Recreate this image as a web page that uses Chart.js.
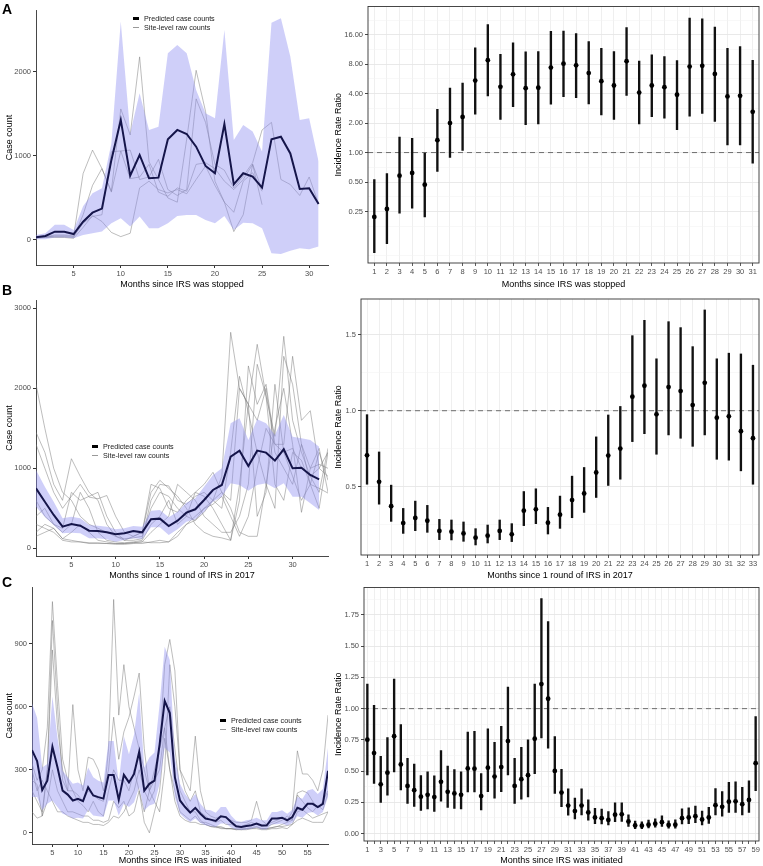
<!DOCTYPE html>
<html>
<head>
<meta charset="utf-8">
<script src="https://cdn.jsdelivr.net/npm/chart.js@4.4.1/dist/chart.umd.min.js"></script>
<style>
  body { margin: 0; background: #fff; font-family: 'Liberation Sans', Arial, sans-serif; }
  #wrap { position: relative; width: 763px; height: 866px; overflow: hidden; }
  #wrap canvas { position: absolute; }
  .tag { position: absolute; font-weight: bold; font-size: 14px; color: #000; }
  .lg { position: absolute; font-size: 7.2px; color: #1a1a1a; line-height: 9px; }
  .lg div { display: flex; align-items: center; white-space: nowrap; }
  .lg span.k { display: inline-block; width: 6px; margin-right: 5px; }
</style>
</head>
<body>
<div id="wrap">
  <canvas id="la" width="336" height="290" style="left:0;top:0"></canvas>
  <canvas id="ra" width="430" height="290" style="left:333px;top:0"></canvas>
  <canvas id="lb" width="336" height="291" style="left:0;top:290px"></canvas>
  <canvas id="rb" width="430" height="291" style="left:333px;top:290px"></canvas>
  <canvas id="lc" width="336" height="285" style="left:0;top:581px"></canvas>
  <canvas id="rc" width="430" height="285" style="left:333px;top:581px"></canvas>

  <div class="tag" style="left:2px;top:1px">A</div>
  <div class="tag" style="left:2px;top:282px">B</div>
  <div class="tag" style="left:2px;top:574px">C</div>

  <div class="lg" style="left:133px;top:14px">
    <div><span class="k" style="height:2.5px;background:#000"></span>Predicted case counts</div>
    <div><span class="k" style="height:1px;background:#999"></span>Site-level raw counts</div>
  </div>
  <div class="lg" style="left:92px;top:442px">
    <div><span class="k" style="height:2.5px;background:#000"></span>Predicted case counts</div>
    <div><span class="k" style="height:1px;background:#999"></span>Site-level raw counts</div>
  </div>
  <div class="lg" style="left:220px;top:716px">
    <div><span class="k" style="height:2.5px;background:#000"></span>Predicted case counts</div>
    <div><span class="k" style="height:1px;background:#999"></span>Site-level raw counts</div>
  </div>
</div>

<script>
// ---------- Panel A: months since IRS was stopped ----------
const monthsA = Array.from({ length: 31 }, (_, i) => i + 1);
const predA = [32, 48, 99, 99, 71, 218, 325, 373, 950, 1429, 766, 1012, 734, 742, 1198, 1310, 1262, 1111, 881, 794, 1381, 663, 794, 754, 623, 1200, 1230, 1030, 607, 615, 428];
const upA = [60, 80, 180, 180, 120, 400, 555, 615, 1150, 2600, 1270, 1746, 1310, 1349, 2222, 2321, 2222, 1786, 1508, 1448, 2500, 1190, 1369, 1290, 1052, 2587, 2639, 2183, 1429, 1448, 933];
const loA = [8, 8, 28, 30, 20, 60, 80, 100, 198, 258, 159, 278, 139, 139, 198, 286, 298, 298, 238, 198, 286, 119, 206, 198, 139, -159, -167, -127, -99, -111, -79];
const rawA1 = [40, 40, 60, 60, 50, 790, 1070, 850, 580, 1560, 1250, 2180, 930, 720, 500, 450, 1200, 2020, 1530, 700, 450, 100, 300, 900, 420, null, null, null, null, null, null];
const rawA2 = [30, 40, 40, 40, 30, 300, 650, 850, 570, 1060, 1070, 720, 750, 960, 600, 530, 600, 1680, 1400, 900, 830, 620, 760, 920, 1310, 1400, 720, 660, 530, 750, 430];
const rawA3 = [20, 30, 30, 30, 20, 150, 290, 220, 90, 40, 80, 620, 700, 600, 560, 600, 550, 720, 880, 650, 450, 330, 700, 800, 580, null, null, null, null, null, null];
const rawA4 = [30, 30, 50, 50, 40, 200, 280, 300, 1050, 1060, 730, 750, 900, 570, 520, 620, 580, 900, 920, 850, 700, 600, 720, 900, 600, null, null, null, null, null, null];
const irrA = [0.22, 0.265, 0.58, 0.62, 0.47, 1.34, 2.0, 2.31, 5.45, 8.8, 4.7, 6.3, 4.55, 4.6, 7.4, 8.1, 7.8, 6.5, 5.37, 4.85, 8.6, 4.1, 4.85, 4.66, 3.9, 7.57, 7.7, 6.37, 3.75, 3.8, 2.61];
const irrLoA = [0.095, 0.117, 0.24, 0.27, 0.22, 0.64, 0.89, 1.05, 2.47, 3.8, 2.18, 2.94, 1.93, 1.96, 3.13, 3.72, 3.63, 3.15, 2.42, 2.18, 3.83, 1.96, 2.33, 2.25, 1.71, 2.36, 2.52, 2.08, 1.2, 1.2, 0.78];
const irrHiA = [0.53, 0.61, 1.44, 1.4, 0.99, 2.76, 4.55, 5.12, 11.8, 20.3, 10.1, 13.2, 10.7, 10.8, 17.3, 17.5, 16.5, 13.6, 11.6, 10.8, 18.9, 8.6, 10.0, 9.6, 8.7, 23.7, 23.3, 19.2, 11.6, 12.1, 8.77];

// ---------- Panel B: months since 1 round of IRS in 2017 ----------
const monthsB = Array.from({ length: 33 }, (_, i) => i + 1);
const monthsBRaw = Array.from({ length: 34 }, (_, i) => i + 1);
const predB = [750, 583, 417, 271, 304, 283, 221, 217, 200, 175, 188, 217, 200, 363, 371, 279, 346, 446, 488, 604, 729, 792, 1146, 1221, 1029, 1221, 1196, 1096, 1238, 1000, 1008, 917, 863];
const upB = [979, 771, 583, 375, 396, 375, 292, 283, 271, 238, 250, 279, 271, 471, 479, 388, 458, 571, 625, 771, 917, 1000, 1563, 1625, 1354, 1613, 1563, 1417, 1667, 1396, 1375, 1354, 1271];
const loB = [521, 396, 292, 188, 196, 188, 125, 125, 113, 83, 104, 125, 117, 263, 263, 167, 238, 333, 363, 458, 583, 646, 813, 792, 721, 792, 813, 750, 813, 646, 646, 563, 479];
const rawB1 = [2050, 1500, 1000, 700, 600, 400, 300, 250, 200, 150, 120, 130, 150, 500, 700, 650, 500, 400, 350, 500, 600, 900, 2700, 2000, 1800, 2550, 1900, 1400, 2650, 1600, 1200, 900, 700, 1250];
const rawB2 = [1450, 1200, 800, 600, 1120, 900, 700, 600, 300, 150, 100, 100, 120, 600, 800, 780, 600, 550, 650, 700, 600, 500, 1200, 2150, 1700, 1200, 800, 500, 2400, 2050, 1300, 1000, 1250, 700];
const rawB3 = [1300, 1000, 700, 500, 650, 800, 640, 620, 660, 400, 200, 150, 200, 700, 850, 750, 650, 500, 300, 200, 150, 130, 100, 600, 2280, 1800, 2050, 1300, 1300, 2400, 1600, 1720, 1000, 900];
const rawB4 = [400, 500, 300, 200, 300, 700, 500, 200, 100, 80, 70, 80, 100, 300, 400, 600, 300, 400, 700, 800, 950, 700, 600, 2000, 1800, 400, 700, 2050, 1200, 1250, 1000, 900, 1000, 1200];
const rawB5 = [150, 200, 250, 120, 200, 300, 200, 100, 80, 60, 60, 70, 80, 200, 300, 400, 800, 700, 600, 400, 300, 200, 200, 400, 800, 2300, 1900, 800, 600, 1200, 1100, 800, 750, 690];
const rawB6 = [200, 300, 250, 120, 100, 80, 70, 70, 60, 60, 60, 70, 80, 70, 70, 80, 200, 300, 350, 450, 600, 700, 500, 200, 150, 150, 800, 1500, 2000, 1300, 450, 1000, 1050, 1000];
const rawB7 = [300, 250, 200, 100, 80, 80, 60, 60, 60, 50, 50, 60, 60, 80, 100, 80, 150, 300, 400, 500, 550, 650, 400, 150, 400, 1000, 1500, 1300, 1200, 900, 600, 800, 1200, 850];
const rawB8 = [600, 400, 300, 250, 700, 600, 650, 700, 400, 200, 100, 150, 200, 800, 750, 500, 450, 600, 700, 650, 500, 300, 100, 800, 1800, 1600, 2000, 1200, 1000, 800, 1300, 800, 500, 1200];
const irrB = [0.707, 0.533, 0.373, 0.262, 0.295, 0.277, 0.21, 0.205, 0.194, 0.166, 0.179, 0.21, 0.188, 0.343, 0.352, 0.264, 0.317, 0.413, 0.456, 0.594, 0.705, 0.751, 1.092, 1.164, 0.976, 1.155, 1.129, 1.037, 1.183, 0.954, 0.963, 0.865, 0.819];
const irrLoB = [0.517, 0.386, 0.273, 0.194, 0.212, 0.201, 0.153, 0.151, 0.142, 0.118, 0.131, 0.153, 0.14, 0.245, 0.258, 0.19, 0.227, 0.297, 0.332, 0.43, 0.509, 0.55, 0.797, 0.849, 0.714, 0.841, 0.819, 0.766, 0.841, 0.681, 0.675, 0.605, 0.517];
const irrHiB = [0.974, 0.729, 0.511, 0.358, 0.406, 0.378, 0.286, 0.282, 0.269, 0.225, 0.249, 0.282, 0.258, 0.469, 0.487, 0.365, 0.439, 0.57, 0.627, 0.828, 0.972, 1.028, 1.493, 1.594, 1.341, 1.585, 1.546, 1.421, 1.662, 1.341, 1.378, 1.373, 1.299];

// ---------- Panel C: months since IRS was initiated ----------
const monthsC = Array.from({ length: 59 }, (_, i) => i + 1);
const predC = [393, 342, 204, 248, 410, 311, 201, 182, 154, 162, 151, 217, 178, 170, 163, 275, 275, 157, 276, 240, 280, 385, 201, 233, 248, 420, 628, 570, 264, 154, 123, 96, 119, 91, 68, 63, 57, 79, 75, 52, 31, 28, 33, 36, 44, 35, 36, 68, 68, 72, 60, 75, 119, 110, 138, 138, 123, 138, 295];
const upC = [617, 547, 311, 327, 649, 452, 295, 264, 233, 239, 225, 311, 264, 248, 240, 437, 437, 240, 460, 374, 468, 665, 311, 358, 382, 610, 885, 822, 358, 233, 185, 154, 185, 138, 110, 107, 96, 123, 123, 83, 57, 52, 60, 63, 72, 60, 60, 99, 99, 107, 91, 110, 170, 162, 201, 209, 185, 209, 405];
const loC = [170, 170, 107, 138, 154, 123, 91, 83, 68, 72, 68, 110, 83, 79, 75, 154, 154, 83, 138, 123, 146, 217, 107, 130, 138, 233, 405, 382, 170, 91, 68, 52, 68, 47, 36, 31, 28, 44, 44, 25, 16, 13, 16, 19, 25, 16, 17, 41, 41, 44, 35, 47, 79, 72, 94, 99, 83, 99, 170];
const rawC1 = [330, 250, 300, 500, 1100, 700, 350, 250, 200, 180, 150, 200, 180, 160, 150, 400, 1110, 560, 800, 600, 500, 400, 300, 200, 300, 400, 800, 920, 770, 300, 250, 200, 460, 200, 100, 80, 70, 80, 70, 60, 50, 50, 50, 60, 150, 60, 40, 50, 60, 70, 60, 100, 390, 280, 280, 250, 200, 300, 560];
const rawC2 = [200, 150, 100, 300, 870, 500, 300, 200, 610, 300, 200, 360, 350, 300, 200, 300, 550, 350, 480, 550, 650, 760, 400, 200, 150, 100, 300, 800, 600, 300, 200, 150, 200, 100, 80, 60, 50, 60, 40, 40, 30, 30, 40, 50, 40, 30, 30, 40, 50, 60, 80, 60, 190, 200, 190, 150, 120, 150, 200];
const rawC3 = [100, 70, 80, 300, 1010, 600, 250, 200, 200, 150, 130, 100, 150, 100, 80, 200, 300, 250, 250, 200, 300, 200, 100, 200, 250, 300, 500, 300, 200, 100, 80, 60, 80, 50, 50, 40, 30, 30, 20, 20, 15, 20, 20, 25, 30, 20, 20, 25, 30, 40, 50, 60, 180, 150, 120, 100, 130, 110, 190];
const rawC4 = [250, 230, 80, 150, 300, 200, 150, 100, 100, 90, 80, 80, 60, 60, 50, 60, 150, 120, 150, 80, 100, 200, 50, 0, 100, 200, 450, 300, 150, 80, 60, 50, 50, 40, 40, 30, 25, 25, 20, 20, 20, 15, 20, 20, 25, 20, 20, 25, 30, 30, 35, 40, 100, 110, 90, 70, 80, 90, 100];
const rawC5 = [300, 200, 250, 200, 150, 100, 100, 80, 70, 60, 50, 50, 40, 40, 35, 50, 80, 70, 100, 150, 200, 300, 200, 150, 200, 400, 500, 600, 400, 200, 150, 100, 100, 60, 40, 30, 30, 20, 20, 20, 15, 15, 15, 20, 20, 15, 15, 20, 20, 25, 20, 40, 60, 70, 60, 50, 50, 50, 100];
const irrC = [0.751, 0.644, 0.394, 0.487, 0.779, 0.553, 0.381, 0.347, 0.295, 0.31, 0.292, 0.414, 0.334, 0.321, 0.31, 0.521, 0.519, 0.3, 0.527, 0.456, 0.532, 0.74, 0.381, 0.435, 0.467, 0.759, 1.197, 1.079, 0.501, 0.328, 0.224, 0.18, 0.224, 0.169, 0.128, 0.123, 0.109, 0.151, 0.154, 0.096, 0.065, 0.063, 0.07, 0.078, 0.091, 0.068, 0.07, 0.123, 0.128, 0.138, 0.112, 0.128, 0.227, 0.214, 0.255, 0.258, 0.235, 0.269, 0.563];
const irrLoC = [0.469, 0.401, 0.248, 0.308, 0.493, 0.349, 0.24, 0.216, 0.185, 0.196, 0.177, 0.258, 0.209, 0.201, 0.196, 0.334, 0.334, 0.188, 0.336, 0.282, 0.336, 0.469, 0.24, 0.274, 0.292, 0.48, 0.766, 0.683, 0.321, 0.214, 0.146, 0.117, 0.149, 0.107, 0.078, 0.076, 0.068, 0.094, 0.096, 0.057, 0.039, 0.039, 0.044, 0.05, 0.057, 0.042, 0.042, 0.076, 0.078, 0.086, 0.068, 0.081, 0.149, 0.138, 0.169, 0.169, 0.149, 0.169, 0.344];
const irrHiC = [1.197, 1.027, 0.618, 0.769, 1.236, 0.873, 0.602, 0.555, 0.464, 0.493, 0.461, 0.665, 0.54, 0.511, 0.493, 0.813, 0.819, 0.48, 0.839, 0.73, 0.858, 1.173, 0.602, 0.691, 0.751, 1.197, 1.882, 1.697, 0.777, 0.514, 0.357, 0.284, 0.357, 0.269, 0.201, 0.196, 0.175, 0.245, 0.245, 0.149, 0.099, 0.094, 0.107, 0.117, 0.141, 0.102, 0.109, 0.198, 0.206, 0.219, 0.18, 0.209, 0.36, 0.336, 0.409, 0.414, 0.37, 0.422, 0.936];

// axis tick labels
const yTicksA = [0, 1000, 2000];
const yTicksB = [0, 1000, 2000, 3000];
const yTicksC = [0, 300, 600, 900];
const irrTicksA = [0.25, 0.5, 1, 2, 4, 8, 16];
const irrTicksB = [0.5, 1.0, 1.5];
const irrTicksC = [0, 0.25, 0.5, 0.75, 1.0, 1.25, 1.5, 1.75];

Chart.defaults.font.family = "'Liberation Sans', Arial, sans-serif";
Chart.defaults.animation = false;

const TICK_COLOR = '#4d4d4d';
const AXIS_COLOR = '#333333';

// caja del panel (theme_bw) y linea de referencia discontinua
const panelBox = {
    id: 'panelBox',
    afterDatasetsDraw(chart, args, opts) {
        if (!opts.show) return;
        const a = chart.chartArea;
        const c = chart.ctx;
        c.save();
        c.strokeStyle = AXIS_COLOR;
        c.lineWidth = 0.9;
        c.strokeRect(a.left, a.top, a.right - a.left, a.bottom - a.top);
        c.restore();
    }
};
const refLine = {
    id: 'refLine',
    beforeDatasetsDraw(chart, args, opts) {
        if (opts.value === undefined || opts.value === null) return;
        const a = chart.chartArea;
        const y = chart.scales.y.getPixelForValue(opts.value);
        const c = chart.ctx;
        c.save();
        c.strokeStyle = '#6e6e6e';
        c.lineWidth = 1;
        c.setLineDash([5, 4]);
        c.beginPath();
        c.moveTo(a.left, y);
        c.lineTo(a.right, y);
        c.stroke();
        c.restore();
    }
};
Chart.register(panelBox, refLine);

function xy(xs, ys) {
    return ys.map((v, i) => ({ x: xs[i], y: v }));
}

// panel izquierdo: lineas crudas, banda y prediccion
function leftPanel(id, o) {
    const raws = o.raws.map(r => ({
        data: xy(o.rawX || o.x, r),
        borderColor: 'rgba(120,120,120,0.7)',
        borderWidth: 0.7,
        pointRadius: 0,
        fill: false,
        spanGaps: false,
        order: 3
    }));
    const datasets = raws.concat([
        { data: xy(o.x, o.lo), borderColor: 'rgba(0,0,0,0)', borderWidth: 0, pointRadius: 0, fill: false, order: 2 },
        { data: xy(o.x, o.up), borderColor: 'rgba(0,0,0,0)', borderWidth: 0, pointRadius: 0,
          fill: '-1', backgroundColor: 'rgba(140,140,240,0.42)', order: 1 },
        { data: xy(o.x, o.pred), borderColor: '#15154a', borderWidth: 2, pointRadius: 0, fill: false, order: 0 }
    ]);
    return new Chart(document.getElementById(id), {
        type: 'line',
        data: { datasets: datasets },
        options: {
            responsive: false,
            layout: { padding: { top: o.padTop, right: 8, left: 0, bottom: 0 } },
            plugins: { legend: { display: false }, tooltip: { enabled: false } },
            elements: { line: { tension: 0 } },
            scales: {
                x: {
                    type: 'linear', min: o.xMin, max: o.xMax,
                    afterBuildTicks: s => { s.ticks = o.xTicks.map(v => ({ value: v })); },
                    afterFit: s => { s.height = o.xH; },
                    grid: { drawOnChartArea: false, drawTicks: true, tickLength: 3, tickColor: AXIS_COLOR },
                    border: { display: true, color: AXIS_COLOR, width: 0.9 },
                    ticks: { color: TICK_COLOR, font: { size: 7.5 }, padding: 1, maxRotation: 0, callback: v => String(v) },
                    title: { display: true, text: o.xTitle, color: '#000', font: { size: 9 }, padding: { top: 0, bottom: 0 } }
                },
                y: {
                    type: 'linear', min: o.yMin, max: o.yMax,
                    afterBuildTicks: s => { s.ticks = o.yTicks.map(v => ({ value: v })); },
                    afterFit: s => { s.width = o.yW; },
                    grid: { drawOnChartArea: false, drawTicks: true, tickLength: 3, tickColor: AXIS_COLOR },
                    border: { display: true, color: AXIS_COLOR, width: 0.9 },
                    ticks: { color: TICK_COLOR, font: { size: 7.5 }, padding: 2, callback: v => String(v) },
                    title: { display: true, text: 'Case count', color: '#000', font: { size: 9 }, padding: { top: 4, bottom: 0 } }
                }
            }
        }
    });
}

// panel derecho: razones de tasa con intervalos
function rightPanel(id, o) {
    const t = o.transform || (v => v);
    const near = (a, b) => Math.abs(a - b) < 1e-6;
    const majors = o.majors.map(t);
    const isMajor = v => majors.some(m => near(m, v));
    const labels = o.x.map(String);
    return new Chart(document.getElementById(id), {
        type: 'bar',
        data: {
            labels: labels,
            datasets: [
                {
                    type: 'line',
                    data: o.est.map(t),
                    showLine: false,
                    pointRadius: 2.4,
                    pointBackgroundColor: '#000',
                    pointBorderColor: '#000',
                    pointBorderWidth: 0,
                    order: 0
                },
                {
                    data: o.lo.map((l, i) => [t(l), t(o.hi[i])]),
                    backgroundColor: '#111',
                    borderWidth: 0,
                    barThickness: 1.7,
                    grouped: false,
                    order: 1
                }
            ]
        },
        options: {
            responsive: false,
            layout: { padding: { top: o.padTop, right: 2, left: 0, bottom: 0 } },
            plugins: {
                legend: { display: false },
                tooltip: { enabled: false },
                panelBox: { show: true },
                refLine: { value: t(1) }
            },
            scales: {
                x: {
                    type: 'category', offset: true,
                    afterFit: s => { s.height = o.xH; },
                    grid: { offset: false, color: '#ebebeb', lineWidth: 0.8, drawTicks: true, tickLength: 3, tickColor: AXIS_COLOR },
                    border: { display: false },
                    ticks: {
                        color: TICK_COLOR, font: { size: 7.5 }, padding: 1, autoSkip: false, maxRotation: 0,
                        callback: function (v, i) { return i % o.labelEvery === 0 ? this.getLabelForValue(v) : ''; }
                    },
                    title: { display: true, text: o.xTitle, color: '#000', font: { size: 9 }, padding: { top: 0, bottom: 0 } }
                },
                y: {
                    type: 'linear', min: o.yMin, max: o.yMax,
                    afterBuildTicks: s => { s.ticks = majors.concat(o.minors).map(v => ({ value: v })); },
                    afterFit: s => { s.width = o.yW; },
                    grid: {
                        color: c => isMajor(c.tick.value) ? '#e6e6e6' : '#f3f3f3',
                        lineWidth: c => isMajor(c.tick.value) ? 0.9 : 0.6,
                        drawTicks: true, tickLength: 3,
                        tickColor: c => isMajor(c.tick.value) ? AXIS_COLOR : 'rgba(0,0,0,0)'
                    },
                    border: { display: false },
                    ticks: {
                        color: TICK_COLOR, font: { size: 7.5 }, padding: 2,
                        callback: v => isMajor(v) ? o.fmt(v) : ''
                    },
                    title: { display: true, text: 'Incidence Rate Ratio', color: '#000', font: { size: 9 }, padding: { top: 0, bottom: 0 } }
                }
            }
        }
    });
}

function initCharts() {
    leftPanel('la', {
        x: monthsA, pred: predA, up: upA, lo: loA, raws: [rawA1, rawA2, rawA3, rawA4],
        xMin: 1, xMax: 32, xTicks: [5, 10, 15, 20, 25, 30],
        yMin: -298, yMax: 2738, yTicks: yTicksA,
        padTop: 10, xH: 25, yW: 36, xTitle: 'Months since IRS was stopped'
    });
    rightPanel('ra', {
        x: monthsA, est: irrA, lo: irrLoA, hi: irrHiA,
        transform: Math.log2, majors: irrTicksA,
        minors: [-3.5, -2.5, -1.5, -0.5, 0.5, 1.5, 2.5, 3.5, 4.5],
        fmt: v => Math.pow(2, v).toFixed(2),
        yMin: -3.75, yMax: 4.96, padTop: 6, xH: 27, yW: 35, labelEvery: 1,
        xTitle: 'Months since IRS was stopped'
    });
    leftPanel('lb', {
        x: monthsB, rawX: monthsBRaw, pred: predB, up: upB, lo: loB,
        raws: [rawB1, rawB2, rawB3, rawB4, rawB5, rawB6, rawB7, rawB8],
        xMin: 1, xMax: 34, xTicks: [5, 10, 15, 20, 25, 30],
        yMin: -96, yMax: 3104, yTicks: yTicksB,
        padTop: 10, xH: 25, yW: 36, xTitle: 'Months since 1 round of IRS in 2017'
    });
    rightPanel('rb', {
        x: monthsB, est: irrB, lo: irrLoB, hi: irrHiB,
        majors: irrTicksB, minors: [0.25, 0.75, 1.25],
        fmt: v => v.toFixed(1),
        yMin: 0.052, yMax: 1.734, padTop: 9, xH: 26, yW: 28, labelEvery: 1,
        xTitle: 'Months since 1 round of IRS in 2017'
    });
    leftPanel('lc', {
        x: monthsC, pred: predC, up: upC, lo: loC, raws: [rawC1, rawC2, rawC3, rawC4, rawC5],
        xMin: 1, xMax: 59, xTicks: [5, 10, 15, 20, 25, 30, 35, 40, 45, 50, 55],
        yMin: -53, yMax: 1167, yTicks: yTicksC,
        padTop: 4, xH: 22, yW: 32, xTitle: 'Months since IRS was initiated'
    });
    rightPanel('rc', {
        x: monthsC, est: irrC, lo: irrLoC, hi: irrHiC,
        majors: irrTicksC, minors: [0.125, 0.375, 0.625, 0.875, 1.125, 1.375, 1.625, 1.875],
        fmt: v => v.toFixed(2),
        yMin: -0.06, yMax: 1.97, padTop: 4, xH: 25, yW: 31, labelEvery: 2,
        xTitle: 'Months since IRS was initiated'
    });
}

if (document.readyState === 'loading') {
    document.addEventListener('DOMContentLoaded', initCharts);
} else {
    initCharts();
}
</script>
</body>
</html>
